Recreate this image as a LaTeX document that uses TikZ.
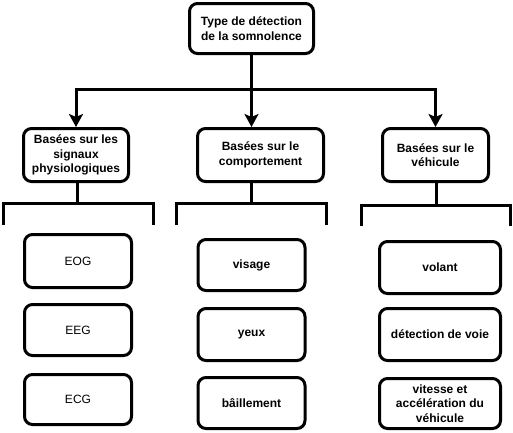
\documentclass[tikz,border=0pt]{standalone}
\usepackage{fontspec}
\setmainfont{Liberation Sans}
\usetikzlibrary{arrows.meta}
\begin{document}
\begin{tikzpicture}[x=1pt,y=-1pt,
  box/.style={draw=black, line width=3pt, rounded corners=8pt, fill=white, align=center, inner sep=0pt, font=\fontsize{12}{14.5}\selectfont\bfseries},
  leaf/.style={box},
  plain/.style={box, font=\fontsize{12}{14.5}\selectfont},
  conn/.style={line width=3pt},
  arr/.style={conn, -{Stealth[length=13pt, width=14pt, inset=3pt]}}]
\useasboundingbox (0,0) rectangle (513,432);
% top
\node[box, minimum width=124pt, minimum height=50pt] (top) at (251.5,28.5) {Type de détection\\de la somnolence};
% categories
\node[box, minimum width=105pt, minimum height=53pt] (c1) at (76,155) {Basées sur les\\signaux\\physiologiques};
\node[box, minimum width=126pt, minimum height=53pt] (c2) at (260.5,155) {Basées sur le\\comportement};
\node[box, minimum width=106pt, minimum height=53pt] (c3) at (435.5,155) {Basées sur le\\véhicule};
% connectors from top
\coordinate (j) at (251.5,89);
\draw[conn] (top.south) -- (j);
\draw[arr] (j) -| (c1.north);
\draw[arr] (j) -- (j |- c2.north);
\draw[arr] (j) -| (c3.north);
% brackets
\coordinate (s1) at (77,203);
\coordinate (s2) at (251.5,203);
\coordinate (s3) at (436,205);
\draw[conn] (c1.south -| s1) -- (s1);
\draw[conn] (c2.south -| s2) -- (s2);
\draw[conn] (c3.south -| s3) -- (s3);
\coordinate (b1a) at (3,225);   \coordinate (b1b) at (153,225);
\coordinate (b2a) at (176,225); \coordinate (b2b) at (326,225);
\coordinate (b3a) at (361,226); \coordinate (b3b) at (510,226);
\draw[conn] (b1a) |- (s1) -| (b1b);
\draw[conn] (b2a) |- (s2) -| (b2b);
\draw[conn] (b3a) |- (s3) -| (b3b);
% leaves left
\node[plain, minimum width=107pt, minimum height=53pt] (eog) at (78,261) {EOG};
\node[plain, minimum width=107pt, minimum height=51pt] (eeg) at (78,330) {EEG};
\node[plain, minimum width=107pt, minimum height=50pt] (ecg) at (78,399.5) {ECG};
% leaves middle
\node[leaf, minimum width=107pt, minimum height=51pt] (vis) at (251.5,265) {visage};
\node[leaf, minimum width=107pt, minimum height=52pt] (yeux) at (251.5,334.5) {yeux};
\node[leaf, minimum width=107pt, minimum height=51pt] (bai) at (251.5,403) {bâillement};
% leaves right
\node[leaf, minimum width=121pt, minimum height=52pt] (vol) at (440,267.5) {volant};
\node[leaf, minimum width=121pt, minimum height=52pt] (voie) at (440,334.5) {détection de voie};
\node[leaf, minimum width=121pt, minimum height=50pt] (vit) at (440,403.5) {vitesse et\\accélération du\\véhicule};
\end{tikzpicture}
\end{document}
